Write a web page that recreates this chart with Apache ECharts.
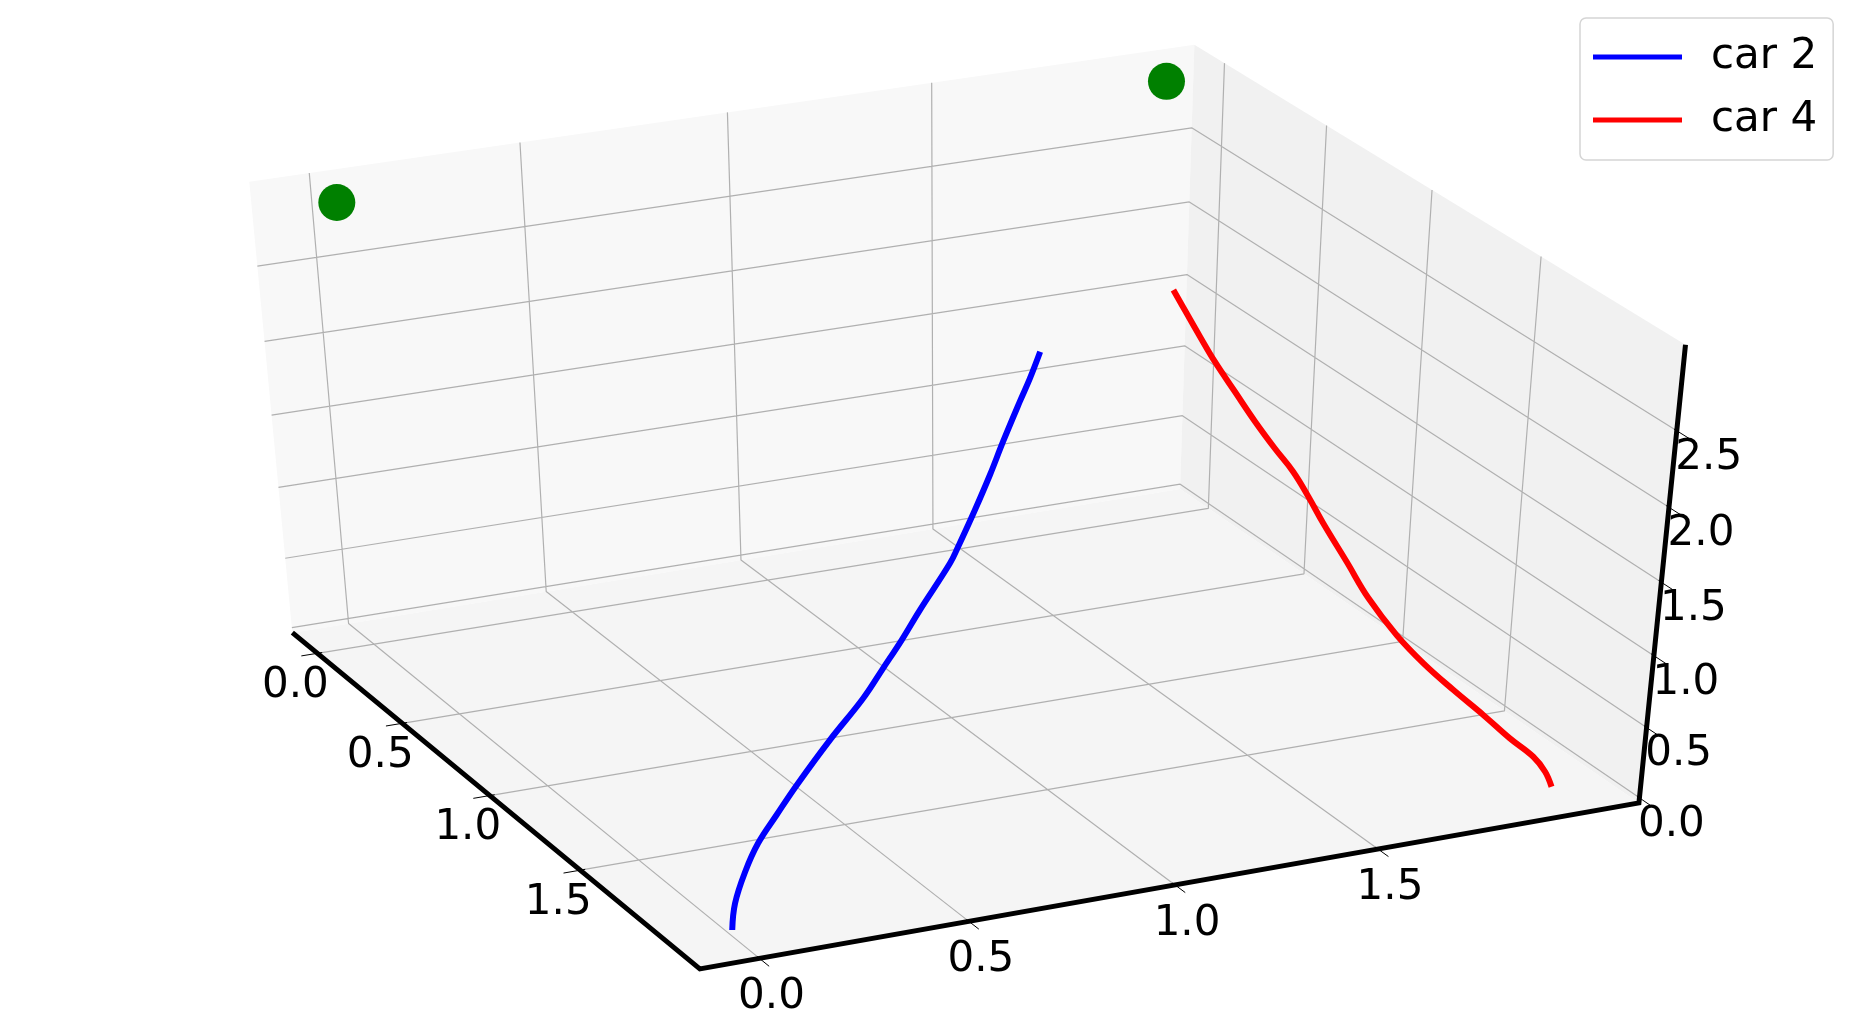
<!DOCTYPE html>
<html>
<head>
<meta charset="utf-8">
<title>car 2 / car 4</title>
<style>
  html, body { margin: 0; height: 100%; background: #fff; }
  #chart { width: 1855px; height: 1022px; }
</style>
</head>
<body>
<div id="chart"></div>
<script src="https://cdn.jsdelivr.net/npm/echarts@6/dist/echarts.min.js"></script>
<script>
// tick values
const xTicks = [0, 0.5, 1, 1.5];
const yTicks = [0, 0.5, 1, 1.5];
const zTicks = [0, 0.5, 1, 1.5, 2, 2.5];

// car 2 path
const car2X = [0.003, 0.043, 0.103, 0.164, 0.229, 0.302, 0.416, 0.523, 0.595, 0.664, 0.736, 0.847, 0.880, 0.961, 1.034, 1.103, 1.190, 1.238, 1.296];
const car2Y = [1.990, 1.919, 1.843, 1.779, 1.736, 1.685, 1.612, 1.556, 1.505, 1.454, 1.394, 1.314, 1.286, 1.201, 1.124, 1.046, 0.949, 0.900, 0.831];
const car2Z = [0, 0.09, 0.2, 0.3, 0.42, 0.54, 0.72, 0.9, 1.02, 1.13, 1.24, 1.43, 1.5, 1.63, 1.76, 1.88, 2.02, 2.11, 2.2];

// car 4 path
const car4X = [2.010, 2.015, 2.009, 1.968, 1.931, 1.883, 1.840, 1.812, 1.789, 1.791, 1.787, 1.787, 1.786, 1.774, 1.760, 1.755, 1.746, 1.746, 1.744, 1.747];
const car4Y = [1.993, 1.950, 1.902, 1.862, 1.799, 1.741, 1.673, 1.592, 1.494, 1.379, 1.267, 1.191, 1.115, 1.045, 0.973, 0.880, 0.795, 0.719, 0.654, 0.580];
const car4Z = [0, 0.06, 0.12, 0.23, 0.35, 0.49, 0.63, 0.76, 0.93, 1.07, 1.23, 1.34, 1.44, 1.54, 1.66, 1.78, 1.91, 2.01, 2.11, 2.2];

// green goal points
const goalX = [0, 2.01];
const goalY = [0, 0];
const goalZ = [2.985, 2.985];

// box limits (y runs towards the viewer)
const xLim = [-0.1409, 2.1544];
const yLim = [-0.1507, 2.1372];
const zLim = [-0.0363, 3.0486];

// camera, fitted to the box corners of the picture
const camera = { elev: 37.8132, azim: -115.4181, dist: 9.5242, sx: 1042.7631, sy: 574.8438, ox: 952.8109, oy: 496.1651 };

// 3D -> flat coordinates, same idea as mplot3d's perspective
function project(x, y, z) {
  const E = camera.elev * Math.PI / 180;
  const A = camera.azim * Math.PI / 180;
  const X = (x - xLim[0]) / (xLim[1] - xLim[0]) - 0.5;
  const Y = (y - yLim[1]) / (yLim[0] - yLim[1]) - 0.5;
  const Z = (z - zLim[0]) / (zLim[1] - zLim[0]) - 0.5;
  const n = [Math.cos(E) * Math.cos(A), Math.cos(E) * Math.sin(A), Math.sin(E)];
  const len = Math.hypot(n[0], n[1]);
  const u = [-n[1] / len, n[0] / len, 0];
  const v = [-n[2] * u[1], n[2] * u[0], n[0] * u[1] - n[1] * u[0]];
  const w = camera.dist / (camera.dist - (X * n[0] + Y * n[1] + Z * n[2]));
  return [
    camera.ox + camera.sx * w * (X * u[0] + Y * u[1]),
    camera.oy - camera.sy * w * (X * v[0] + Y * v[1] + Z * v[2])
  ];
}

const GAP = ['-', '-'];
const [x0, x1] = xLim;
const [y0, y1] = yLim;
const [z0, z1] = zLim;

function polyline(points) {
  return points.map(p => project(p[0], p[1], p[2]));
}

function path(xs, ys, zs) {
  return xs.map((x, i) => project(x, ys[i], zs[i]));
}

// panes: back wall, right wall, floor
const panes = [
  { color: '#f8f8f8', corners: [[x0, y0, z0], [x1, y0, z0], [x1, y0, z1], [x0, y0, z1]] },
  { color: '#f1f1f1', corners: [[x1, y0, z0], [x1, y1, z0], [x1, y1, z1], [x1, y0, z1]] },
  { color: '#f5f5f5', corners: [[x0, y0, z0], [x1, y0, z0], [x1, y1, z0], [x0, y1, z0]] }
];

// grid lines run over the floor and up the walls
const gridData = [];
xTicks.forEach(t => gridData.push(...polyline([[t, y1, z0], [t, y0, z0], [t, y0, z1]]), GAP));
yTicks.forEach(t => gridData.push(...polyline([[x0, t, z0], [x1, t, z0], [x1, t, z1]]), GAP));
zTicks.forEach(t => gridData.push(...polyline([[x0, y0, t], [x1, y0, t], [x1, y1, t]]), GAP));

const tickData = [];
xTicks.forEach(t => tickData.push(...polyline([[t, y1 - 0.012, z0], [t, y1 + 0.05, z0]]), GAP));
yTicks.forEach(t => tickData.push(...polyline([[x0 + 0.012, t, z0], [x0 - 0.04, t, z0]]), GAP));
zTicks.forEach(t => tickData.push(...polyline([[x1, y1 - 0.012, t], [x1, y1 + 0.06, t]]), GAP));

// the three black axis edges
const edgeData = polyline([[x0, y0, z0], [x0, y1, z0], [x1, y1, z0], [x1, y1, z1]]);

function tickLabels(ticks, toPoint, offset) {
  return {
    type: 'scatter',
    symbolSize: 0,
    silent: true,
    z: 4,
    itemStyle: { opacity: 1 },
    data: ticks.map(t => ({ name: t.toFixed(1), value: toPoint(t) })),
    label: {
      show: true,
      position: 'inside',
      formatter: '{b}',
      offset: offset,
      color: '#000',
      fontFamily: '"DejaVu Sans"',
      fontSize: 42,
      align: 'center',
      verticalAlign: 'middle'
    }
  };
}

const plainLine = { type: 'line', symbol: 'none', silent: true, connectNulls: false };

const option = {
  animation: false,
  backgroundColor: '#fff',
  grid: { left: 0, right: 0, top: 0, bottom: 0 },
  xAxis: { type: 'value', min: 0, max: 1855, show: false },
  yAxis: { type: 'value', min: 0, max: 1022, inverse: true, show: false },
  legend: {
    data: ['car 2', 'car 4'],
    orient: 'vertical',
    left: 1580,
    top: 18,
    padding: [18, 16, 19, 13],
    icon: 'rect',
    itemWidth: 89,
    itemHeight: 5,
    itemGap: 21,
    backgroundColor: '#fff',
    borderColor: '#d5d5d5',
    borderWidth: 1.5,
    borderRadius: 6,
    selectedMode: false,
    textStyle: { color: '#000', fontFamily: '"DejaVu Sans"', fontSize: 42, lineHeight: 40, padding: [0, 0, 0, 24] }
  },
  series: [
    {
      type: 'custom',
      silent: true,
      z: 1,
      data: panes.map(p => polyline(p.corners).flat()),
      renderItem(params, api) {
        const points = [0, 2, 4, 6].map(i => api.coord([api.value(i), api.value(i + 1)]));
        return { type: 'polygon', shape: { points }, style: { fill: panes[params.dataIndex].color } };
      }
    },
    { ...plainLine, name: 'grid', z: 2, data: gridData, lineStyle: { color: '#b0b0b0', width: 1.2 } },
    { ...plainLine, name: 'ticks', z: 3, data: tickData, lineStyle: { color: '#000', width: 1 } },
    { ...plainLine, name: 'edges', z: 3, data: edgeData, lineStyle: { color: '#000', width: 5, join: 'miter' } },
    tickLabels(xTicks, t => project(t, y1, z0), [12, 39]),
    tickLabels(yTicks, t => project(x0, t, z0), [-22, 33]),
    tickLabels(zTicks, t => project(x1, y1, t), [32, 27]),
    { ...plainLine, name: 'car 2', z: 5, smooth: 0.4, data: path(car2X, car2Y, car2Z), itemStyle: { color: '#0000ff' }, lineStyle: { color: '#0000ff', width: 6, cap: 'butt' } },
    { ...plainLine, name: 'car 4', z: 5, smooth: 0.4, data: path(car4X, car4Y, car4Z), itemStyle: { color: '#ff0000' }, lineStyle: { color: '#ff0000', width: 6, cap: 'butt' } },
    { type: 'scatter', name: 'goal', z: 6, silent: true, symbolSize: 37, itemStyle: { color: '#008000', opacity: 1 }, data: path(goalX, goalY, goalZ) }
  ]
};

const myChart = echarts.init(document.getElementById('chart'), null, { renderer: 'canvas' });
myChart.setOption(option);
</script>
</body>
</html>
